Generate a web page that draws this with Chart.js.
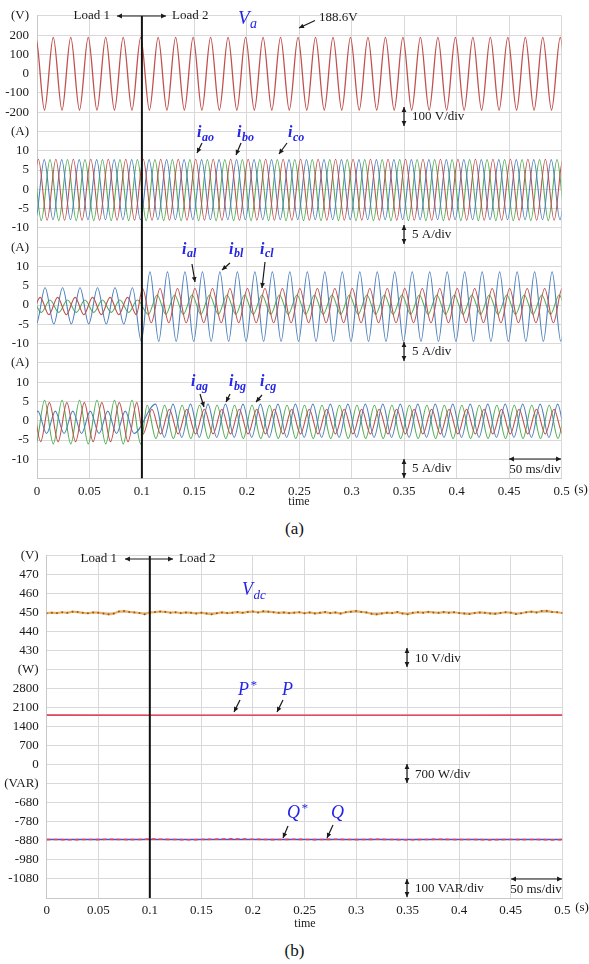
<!DOCTYPE html>
<html>
<head>
<meta charset="utf-8">
<script src="https://cdn.jsdelivr.net/npm/chart.js@4.4.1/dist/chart.umd.min.js"></script>
<style>
  html, body { margin: 0; padding: 0; background: #fff; }
  #page { position: relative; width: 589px; height: 964px; overflow: hidden; }
  canvas { position: absolute; left: 0; }
  #chartA { top: 0; }
  #chartB { top: 540px; }
  .caption { position: absolute; left: 0; width: 589px; text-align: center;
             font: 17px 'Liberation Serif', 'DejaVu Serif', serif; color: #111; }
</style>
</head>
<body>
<div id="page">
  <canvas id="chartA" width="589" height="515"></canvas>
  <div class="caption" style="top:519px">(a)</div>
  <canvas id="chartB" width="589" height="400"></canvas>
  <div class="caption" style="top:941px">(b)</div>
</div>
<script>
// ---- data -------------------------------------------------------------
const F_HZ = 60;          // grid frequency
const T_LOAD = 0.099;     // load step (Load 1 -> Load 2), s
const T_START = -0.02, T_END = 0.52;

// y tick labels, one per grid row (top to bottom)
const rowLabelsA = ['(V)', '200', '100', '0', '-100', '-200',
                    '(A)', '10', '5', '0', '-5', '-10',
                    '(A)', '10', '5', '0', '-5', '-10',
                    '(A)', '10', '5', '0', '-5', '-10', ''];
const rowLabelsB = ['(V)', '470', '460', '450', '440', '430',
                    '(W)', '2800', '2100', '1400', '700', '0',
                    '(VAR)', '-680', '-780', '-880', '-980', '-1080', ''];

// phase voltage Va: time of first positive peak (s), peak values (V)
const vaFirst = 0.0155;
const vaMax = 188.6, vaMin = -188.6;

// three-phase currents a, b, c: first positive peak (s), peak and trough (A)
const ioFirst = [0.0013, 0.0069, 0.0124];
const ioMax = [7.8, 7.7, 7.7];
const ioMin = [-8.0, -7.9, -8.1];

const ilFirst1 = [0.0030, 0.0077, 0.0124];
const ilMax1 = [2.0, 4.5, 1.3];
const ilMin1 = [-2.5, -4.9, -1.9];
const ilFirst2 = [0.0006, 0.0077, 0.0145];
const ilMax2 = [4.3, 8.6, 2.6];
const ilMin2 = [-4.6, -9.4, -2.4];

const igFirst1 = [0.0118, 0.0008, 0.0072];
const igMax1 = [4.7, 2.5, 5.3];
const igMin1 = [-5.4, -3.3, -6.0];
const igFirst2 = [0.0095, 0.0130, 0.0050];
const igMax2 = [3.0, 4.3, 4.0];
const igMin2 = [-3.4, -4.3, -4.6];

// dc-link voltage, one sample every 5 ms (V)
const VDC_STEP = 0.005;
const vdcValues = [
  449.8, 450.1, 449.9, 450.3, 450.0, 450.6, 450.4, 450.0, 449.8, 450.2, 450.1,
  449.7, 449.2, 449.6, 450.7, 450.9, 450.5, 450.2, 449.9, 449.3, 450.2,
  450.4, 450.7, 450.5, 450.1, 450.3, 449.9, 450.2, 450.0, 449.7, 450.1,
  449.6, 449.3, 449.8, 450.2, 449.9, 450.1, 450.4, 450.0, 450.5, 450.7,
  450.2, 450.8, 450.6, 450.3, 450.0, 450.2, 449.9, 450.1, 450.3, 449.8,
  450.2, 449.7, 450.0, 450.4, 449.9, 450.2, 449.6, 450.3, 450.6, 450.9,
  450.5, 450.2, 449.5, 449.2, 449.7, 450.1, 449.9, 450.4, 449.7, 449.3,
  450.0, 450.3, 450.1, 450.5, 450.2, 450.0, 450.4, 450.1, 450.3, 449.9,
  449.6, 449.4, 449.9, 450.2, 450.0, 449.7, 449.5, 449.9, 450.3, 450.1,
  449.4, 449.8, 450.3, 450.6, 450.2, 450.9, 451.0, 450.5, 450.3, 449.9
];

// active power reference / measured (W)
const pRef = [1830, 1830];
const pMeas = [1832, 1830, 1829, 1831, 1830, 1832];
const pTime = [0, 0.1, 0.2, 0.3, 0.4, 0.5];

// reactive power reference / measured, one sample every 10 ms (VAR)
const Q_STEP = 0.01;
const qRef = [-872, -872];
const qMeas = [
  -873, -872, -874, -873, -872, -873, -871, -872, -873, -872,
  -870, -871, -872, -873, -874, -872, -871, -870, -869, -870,
  -871, -872, -873, -872, -871, -872, -873, -872, -871, -872,
  -873, -872, -871, -872, -873, -874, -873, -872, -871, -872,
  -873, -872, -873, -874, -873, -872, -873, -872, -873, -874, -873
];

// ---- helpers ------------------------------------------------------------
const SERIF = "'Liberation Serif', 'DejaVu Serif', serif";
const INK = '#1a1a1a';
const LABEL_BLUE = '#2424e8';
const GRID = '#d9d9d9';
const PHASE_COLORS = ['#c0504d', '#4f81bd', '#56ae56'];

// value -> grid row (rows grow downwards)
function toRow(v, zeroRow, zeroVal, perDiv) {
  return zeroRow - (v - zeroVal) / perDiv;
}

// peaks and troughs of a sine-like trace; the library's monotone spline joins them
function waveExtrema(segs, zeroRow, perDiv) {
  const half = 0.5 / F_HZ;
  const pts = [];
  let lastSign = 0;
  segs.forEach(s => {
    let k = Math.ceil((s.from - s.first) / half);
    for (let t = s.first + k * half; t < s.to; k++, t = s.first + k * half) {
      const sign = (k % 2 === 0) ? 1 : -1;
      if (sign === lastSign) continue;
      lastSign = sign;
      pts.push({ x: t, y: toRow(sign > 0 ? s.max : s.min, zeroRow, 0, perDiv) });
    }
  });
  return pts;
}

function phaseSegs(first1, max1, min1, first2, max2, min2, p) {
  return [
    { from: T_START, to: T_LOAD, first: first1[p], max: max1[p], min: min1[p] },
    { from: T_LOAD, to: T_END, first: first2[p], max: max2[p], min: min2[p] }
  ];
}

function waveDataset(data, color, width) {
  return {
    data: data, borderColor: color, borderWidth: width || 1.1,
    pointRadius: 0, cubicInterpolationMode: 'monotone', fill: false
  };
}

function arrowHead(ctx, x1, y1, x2, y2, size) {
  const a = Math.atan2(y2 - y1, x2 - x1);
  ctx.beginPath();
  ctx.moveTo(x2, y2);
  ctx.lineTo(x2 - size * Math.cos(a - 0.45), y2 - size * Math.sin(a - 0.45));
  ctx.lineTo(x2 - size * Math.cos(a + 0.45), y2 - size * Math.sin(a + 0.45));
  ctx.closePath();
  ctx.fill();
}

function drawSymbol(ctx, it, dy) {
  const size = it.size || 16;
  const weight = it.bold ? 'bold ' : '';
  ctx.fillStyle = LABEL_BLUE;
  ctx.textAlign = 'left';
  ctx.textBaseline = 'alphabetic';
  ctx.font = `italic ${weight}${size}px ${SERIF}`;
  ctx.fillText(it.sym, it.x, it.y - dy);
  const w = ctx.measureText(it.sym).width;
  ctx.font = `italic ${weight}${Math.round(size * 0.72)}px ${SERIF}`;
  if (it.sub) ctx.fillText(it.sub, it.x + w + 0.5, it.y - dy + size * 0.24);
  if (it.sup) ctx.fillText(it.sup, it.x + w + 1, it.y - dy - size * 0.36);
}

const notesPlugin = {
  id: 'notes',
  afterDatasetsDraw(chart, args, opts) {
    const ctx = chart.ctx;
    const dy = opts.offsetY || 0;
    ctx.save();
    (opts.items || []).forEach(it => {
      if (it.arrow) {
        const [x1, y1, x2, y2] = it.arrow;
        ctx.strokeStyle = INK;
        ctx.fillStyle = INK;
        ctx.lineWidth = 1.2;
        ctx.beginPath();
        ctx.moveTo(x1, y1 - dy);
        ctx.lineTo(x2, y2 - dy);
        ctx.stroke();
        arrowHead(ctx, x1, y1 - dy, x2, y2 - dy, 5.5);
        if (it.both) arrowHead(ctx, x2, y2 - dy, x1, y1 - dy, 5.5);
      }
      if (it.text) {
        ctx.fillStyle = INK;
        ctx.font = `${it.size || 13}px ${SERIF}`;
        ctx.textAlign = it.align || 'left';
        ctx.textBaseline = 'middle';
        ctx.fillText(it.text, it.x, it.y - dy);
      }
      if (it.sym) drawSymbol(ctx, it, dy);
    });
    ctx.restore();
  }
};

function baseOptions(rowLabels, maxRow, yWidth, xHeight, pad, items, offsetY) {
  const font = { family: SERIF, size: 13 };
  return {
    responsive: false,
    animation: false,
    layout: { padding: pad },
    plugins: {
      legend: { display: false },
      tooltip: { enabled: false },
      notes: { items: items, offsetY: offsetY }
    },
    scales: {
      x: {
        type: 'linear', min: 0, max: 0.5,
        afterFit: s => { s.height = xHeight; },
        ticks: {
          stepSize: 0.05, autoSkip: false, maxRotation: 0, padding: 5,
          font: font, color: INK,
          callback: v => String(+v.toFixed(2))
        },
        grid: { color: GRID, drawTicks: false },
        border: { color: '#c8c8c8' }
      },
      y: {
        type: 'linear', reverse: true, min: 0, max: maxRow,
        afterFit: s => { s.width = yWidth; },
        ticks: {
          stepSize: 1, autoSkip: false, padding: 8,
          font: font, color: INK,
          callback: v => rowLabels[Math.round(v)] || ''
        },
        grid: { color: GRID, drawTicks: false },
        border: { color: '#c8c8c8' }
      }
    }
  };
}

// ---- panel (a) --------------------------------------------------------
const datasetsA = [];
datasetsA.push({
  data: [{ x: 0.1, y: 0 }, { x: 0.1, y: 24 }],
  borderColor: '#111', borderWidth: 2, pointRadius: 0, order: 0
});
datasetsA.push(waveDataset(waveExtrema(
  [{ from: T_START, to: T_END, first: vaFirst, max: vaMax, min: vaMin }], 3, 100),
  '#c0504d', 1.3));
[0, 1, 2].forEach(p => {
  datasetsA.push(waveDataset(waveExtrema(
    phaseSegs(ioFirst, ioMax, ioMin, ioFirst, ioMax, ioMin, p), 9, 5), PHASE_COLORS[p]));
  datasetsA.push(waveDataset(waveExtrema(
    phaseSegs(ilFirst1, ilMax1, ilMin1, ilFirst2, ilMax2, ilMin2, p), 15, 5), PHASE_COLORS[p]));
  datasetsA.push(waveDataset(waveExtrema(
    phaseSegs(igFirst1, igMax1, igMin1, igFirst2, igMax2, igMin2, p), 21, 5), PHASE_COLORS[p]));
});

const notesA = [
  { text: 'Load 1', x: 110, y: 16, align: 'right' },
  { arrow: [117, 16, 166, 16], both: true },
  { text: 'Load 2', x: 172, y: 16 },
  { sym: 'V', sub: 'a', x: 238, y: 23.5, size: 19 },
  { text: '188.6V', x: 319, y: 18 },
  { arrow: [315, 20.5, 299, 28] },
  { arrow: [404, 107, 404, 126], both: true },
  { text: '100 V/div', x: 412, y: 117 },
  { sym: 'i', sub: 'ao', x: 197, y: 137, size: 16, bold: true },
  { arrow: [202, 143, 197, 153] },
  { sym: 'i', sub: 'bo', x: 237, y: 137, size: 16, bold: true },
  { arrow: [241, 143, 236, 155] },
  { sym: 'i', sub: 'co', x: 288, y: 137, size: 16, bold: true },
  { arrow: [287, 143, 279, 154] },
  { arrow: [404, 225, 404, 244], both: true },
  { text: '5 A/div', x: 412, y: 235 },
  { sym: 'i', sub: 'al', x: 182, y: 253.5, size: 16, bold: true },
  { arrow: [192, 264, 195, 282] },
  { sym: 'i', sub: 'bl', x: 229, y: 253.5, size: 16, bold: true },
  { arrow: [230, 263, 222, 270] },
  { sym: 'i', sub: 'cl', x: 260, y: 253.5, size: 16, bold: true },
  { arrow: [265, 262, 262, 288] },
  { arrow: [404, 342, 404, 361], both: true },
  { text: '5 A/div', x: 412, y: 352 },
  { sym: 'i', sub: 'ag', x: 191, y: 386, size: 16, bold: true },
  { arrow: [200, 394, 204, 407] },
  { sym: 'i', sub: 'bg', x: 229, y: 386, size: 16, bold: true },
  { arrow: [230, 394, 226, 402] },
  { sym: 'i', sub: 'cg', x: 260, y: 386, size: 16, bold: true },
  { arrow: [262, 395, 256, 402] },
  { arrow: [404, 459, 404, 478], both: true },
  { text: '5 A/div', x: 412, y: 469 },
  { arrow: [509, 459, 561, 459], both: true },
  { text: '50 ms/div', x: 535, y: 470, align: 'center' },
  { text: 'time', x: 299, y: 502, align: 'center', size: 12 },
  { text: '(s)', x: 581, y: 490, align: 'center' }
];

new Chart(document.getElementById('chartA'), {
  type: 'line',
  data: { datasets: datasetsA },
  options: baseOptions(rowLabelsA, 24, 37, 36.4,
    { left: 0, right: 27.5, top: 9.8, bottom: 0 }, notesA, 0),
  plugins: [notesPlugin]
});

// ---- panel (b) --------------------------------------------------------
const datasetsB = [
  { data: [{ x: 0.1, y: 0 }, { x: 0.1, y: 18 }],
    borderColor: '#111', borderWidth: 2, pointRadius: 0, order: 0 },
  { data: vdcValues.map((v, i) => ({ x: i * VDC_STEP, y: toRow(v, 3, 450, 10) })),
    borderColor: '#efb060', borderWidth: 2.2, pointRadius: 1,
    pointBackgroundColor: '#8c5a28', pointBorderWidth: 0, order: 1 },
  { data: pMeas.map((v, i) => ({ x: pTime[i], y: toRow(v, 11, 0, 700) })),
    borderColor: '#e0485e', borderWidth: 1.6, pointRadius: 0, order: 1 },
  { data: pRef.map((v, i) => ({ x: i * 0.5, y: toRow(v, 11, 0, 700) })),
    borderColor: '#e36a80', borderWidth: 1, pointRadius: 0, order: 2 },
  { data: qMeas.map((v, i) => ({ x: i * Q_STEP, y: toRow(v, 13, -680, 100) })),
    borderColor: '#e8405a', borderWidth: 1.6, borderDash: [4, 3], pointRadius: 0, order: 1 },
  { data: qRef.map((v, i) => ({ x: i * 0.5, y: toRow(v, 13, -680, 100) })),
    borderColor: '#3a55e0', borderWidth: 1.2, pointRadius: 0, order: 2 }
];

const notesB = [
  { text: 'Load 1', x: 117, y: 559, align: 'right' },
  { arrow: [125, 559, 173, 559], both: true },
  { text: 'Load 2', x: 179, y: 559 },
  { sym: 'V', sub: 'dc', x: 242, y: 595, size: 18 },
  { arrow: [407, 648, 407, 667], both: true },
  { text: '10 V/div', x: 415, y: 659 },
  { sym: 'P', sup: '*', x: 238, y: 695, size: 18 },
  { arrow: [240, 700, 234, 712] },
  { sym: 'P', x: 282, y: 695, size: 18 },
  { arrow: [283, 700, 277, 712] },
  { arrow: [407, 764, 407, 783], both: true },
  { text: '700 W/div', x: 415, y: 775 },
  { sym: 'Q', sup: '*', x: 287, y: 818, size: 18 },
  { arrow: [288, 826, 283, 838] },
  { sym: 'Q', x: 331, y: 818, size: 18 },
  { arrow: [333, 825, 327, 838] },
  { arrow: [407, 879, 407, 897], both: true },
  { text: '100 VAR/div', x: 415, y: 889 },
  { arrow: [511, 879, 562, 879], both: true },
  { text: '50 ms/div', x: 536, y: 890, align: 'center' },
  { text: 'time', x: 305, y: 924, align: 'center', size: 12 },
  { text: '(s)', x: 582, y: 908, align: 'center' }
];

new Chart(document.getElementById('chartB'), {
  type: 'line',
  data: { datasets: datasetsB },
  options: baseOptions(rowLabelsB, 18, 46.7, 42,
    { left: 0, right: 26.7, top: 12, bottom: 0 }, notesB, 540),
  plugins: [notesPlugin]
});
</script>
</body>
</html>
